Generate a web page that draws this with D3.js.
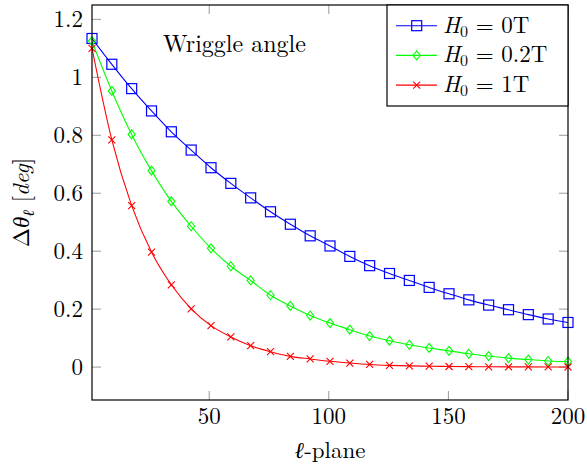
<!DOCTYPE html>
<html>
<head>
<meta charset="utf-8">
<script src="https://cdn.jsdelivr.net/npm/d3@7"></script>
<style>
  body { margin: 0; background: #fff; }
  text { font-family: "Latin Modern Roman", "CMU Serif", "Liberation Serif", serif; fill: #000; }
</style>
</head>
<body>
<svg width="587" height="468"></svg>
<script>
// x positions (ℓ-plane), 25 sample planes
var planes = [1, 9.29, 17.58, 25.88, 34.17, 42.46, 50.75, 59.04, 67.33, 75.63, 83.92, 92.21, 100.5,
              108.79, 117.08, 125.38, 133.67, 141.96, 150.25, 158.54, 166.83, 175.13, 183.42, 191.71, 200];

var h0_0T = [1.134, 1.045, 0.961, 0.884, 0.812, 0.749, 0.688, 0.634, 0.584, 0.536, 0.493, 0.453, 0.418,
             0.382, 0.350, 0.323, 0.299, 0.275, 0.253, 0.232, 0.214, 0.198, 0.181, 0.166, 0.154];
var h0_02T = [1.125, 0.953, 0.803, 0.678, 0.572, 0.486, 0.410, 0.348, 0.299, 0.248, 0.211, 0.178, 0.152,
              0.129, 0.107, 0.091, 0.077, 0.066, 0.056, 0.046, 0.038, 0.031, 0.026, 0.021, 0.019];
var h0_1T = [1.100, 0.784, 0.557, 0.397, 0.284, 0.201, 0.143, 0.104, 0.074, 0.053, 0.037, 0.028, 0.020,
             0.014, 0.009, 0.006, 0.004, 0.003, 0.002, 0.0015, 0.001, 0.0008, 0.0006, 0.0004, 0.0003];

var xTicks = [50, 100, 150, 200];
var yTicks = [0, 0.2, 0.4, 0.6, 0.8, 1, 1.2];

var series = [
  { label: "0T", values: h0_0T, color: "#0000ff", marker: "square" },
  { label: "0.2T", values: h0_02T, color: "#00ff00", marker: "diamond" },
  { label: "1T", values: h0_1T, color: "#ff0000", marker: "cross" }
];

var svg = d3.select("svg"),
    plotL = 92, plotR = 568, plotT = 5, plotB = 400,
    fs = 23;

var x = d3.scaleLinear().domain([1, 200]).range([plotL, plotR]);
var y = d3.scaleLinear().domain([-0.1136, 1.2496]).range([plotB, plotT]);

// ticks (inside, on all four sides)
var tickLen = 9, tickColor = "#9a9a9a";
var ticks = svg.append("g").attr("stroke", tickColor).attr("stroke-width", 1);
xTicks.forEach(function (t) {
  ticks.append("line").attr("x1", x(t)).attr("x2", x(t)).attr("y1", plotB).attr("y2", plotB - tickLen);
  ticks.append("line").attr("x1", x(t)).attr("x2", x(t)).attr("y1", plotT).attr("y2", plotT + tickLen);
});
yTicks.forEach(function (t) {
  ticks.append("line").attr("x1", plotL).attr("x2", plotL + tickLen).attr("y1", y(t)).attr("y2", y(t));
  ticks.append("line").attr("x1", plotR).attr("x2", plotR - tickLen).attr("y1", y(t)).attr("y2", y(t));
});

// tick labels
svg.append("g").selectAll("text")
  .data(xTicks).enter().append("text")
  .attr("x", function (d) { return x(d); })
  .attr("y", 424)
  .attr("text-anchor", "middle")
  .attr("font-size", fs)
  .text(function (d) { return d; });

svg.append("g").selectAll("text")
  .data(yTicks).enter().append("text")
  .attr("x", 83)
  .attr("y", function (d) { return y(d); })
  .attr("dy", "0.33em")
  .attr("text-anchor", "end")
  .attr("font-size", fs)
  .text(function (d) { return +d.toFixed(1); });

// lines + markers
var line = d3.line()
  .x(function (d, i) { return x(planes[i]); })
  .y(function (d) { return y(d); })
  .curve(d3.curveMonotoneX);

svg.append("defs").append("clipPath").attr("id", "clip")
  .append("rect").attr("x", plotL).attr("y", plotT).attr("width", plotR - plotL).attr("height", plotB - plotT);

function drawMarker(g, type, color, cx, cy) {
  if (type === "square") {
    g.append("rect").attr("x", cx - 5).attr("y", cy - 5).attr("width", 10).attr("height", 10)
      .attr("fill", "none").attr("stroke", color).attr("stroke-width", 1.2);
  } else if (type === "diamond") {
    g.append("path").attr("d", "M" + cx + "," + (cy - 4.5) + "L" + (cx + 3.6) + "," + cy + "L" + cx + "," + (cy + 4.5) + "L" + (cx - 3.6) + "," + cy + "Z")
      .attr("fill", "none").attr("stroke", color).attr("stroke-width", 1.1);
  } else {
    g.append("path").attr("d", "M" + (cx - 3.5) + "," + (cy - 3.5) + "L" + (cx + 3.5) + "," + (cy + 3.5) + "M" + (cx - 3.5) + "," + (cy + 3.5) + "L" + (cx + 3.5) + "," + (cy - 3.5))
      .attr("stroke", color).attr("stroke-width", 1.1);
  }
}

series.forEach(function (s) {
  var g = svg.append("g");
  g.append("path")
    .attr("d", line(s.values))
    .attr("fill", "none")
    .attr("stroke", s.color)
    .attr("stroke-width", 1.1)
    .attr("clip-path", "url(#clip)");
  s.values.forEach(function (v, i) { drawMarker(g, s.marker, s.color, x(planes[i]), y(v)); });
});

// axis frame
svg.append("rect")
  .attr("x", plotL).attr("y", plotT).attr("width", plotR - plotL).attr("height", plotB - plotT)
  .attr("fill", "none").attr("stroke", "#000").attr("stroke-width", 1.2);

// title
svg.append("text")
  .attr("x", 234.5).attr("y", 52)
  .attr("text-anchor", "middle")
  .attr("font-size", 24)
  .text("Wriggle angle");

// axis labels
svg.append("text")
  .attr("x", (plotL + plotR) / 2).attr("y", 458)
  .attr("text-anchor", "middle")
  .attr("font-size", fs)
  .html('<tspan font-style="italic">ℓ</tspan>-plane');

svg.append("text")
  .attr("transform", "translate(29," + (plotT + plotB) / 2 + ") rotate(-90)")
  .attr("text-anchor", "middle")
  .attr("font-size", fs)
  .html('Δ<tspan font-style="italic">θ</tspan><tspan font-style="italic" font-size="16" dy="5">ℓ</tspan><tspan dy="-5"> [</tspan><tspan font-style="italic">deg</tspan>]');

// legend
var legend = svg.append("g");
legend.append("rect")
  .attr("x", 387).attr("y", 5).attr("width", 181).attr("height", 101)
  .attr("fill", "#fff").attr("stroke", "#000").attr("stroke-width", 1.2);

series.forEach(function (s, i) {
  var cy = 25.7 + i * 29.7;
  legend.append("line").attr("x1", 396).attr("x2", 437).attr("y1", cy).attr("y2", cy)
    .attr("stroke", s.color).attr("stroke-width", 1.1);
  drawMarker(legend, s.marker, s.color, 416.7, cy);
  legend.append("text")
    .attr("x", 443).attr("y", cy + 7)
    .attr("font-size", fs)
    .html('<tspan font-style="italic">H</tspan><tspan font-size="16" dy="4">0</tspan><tspan dy="-4"> = ' + s.label + '</tspan>');
});
</script>
</body>
</html>
